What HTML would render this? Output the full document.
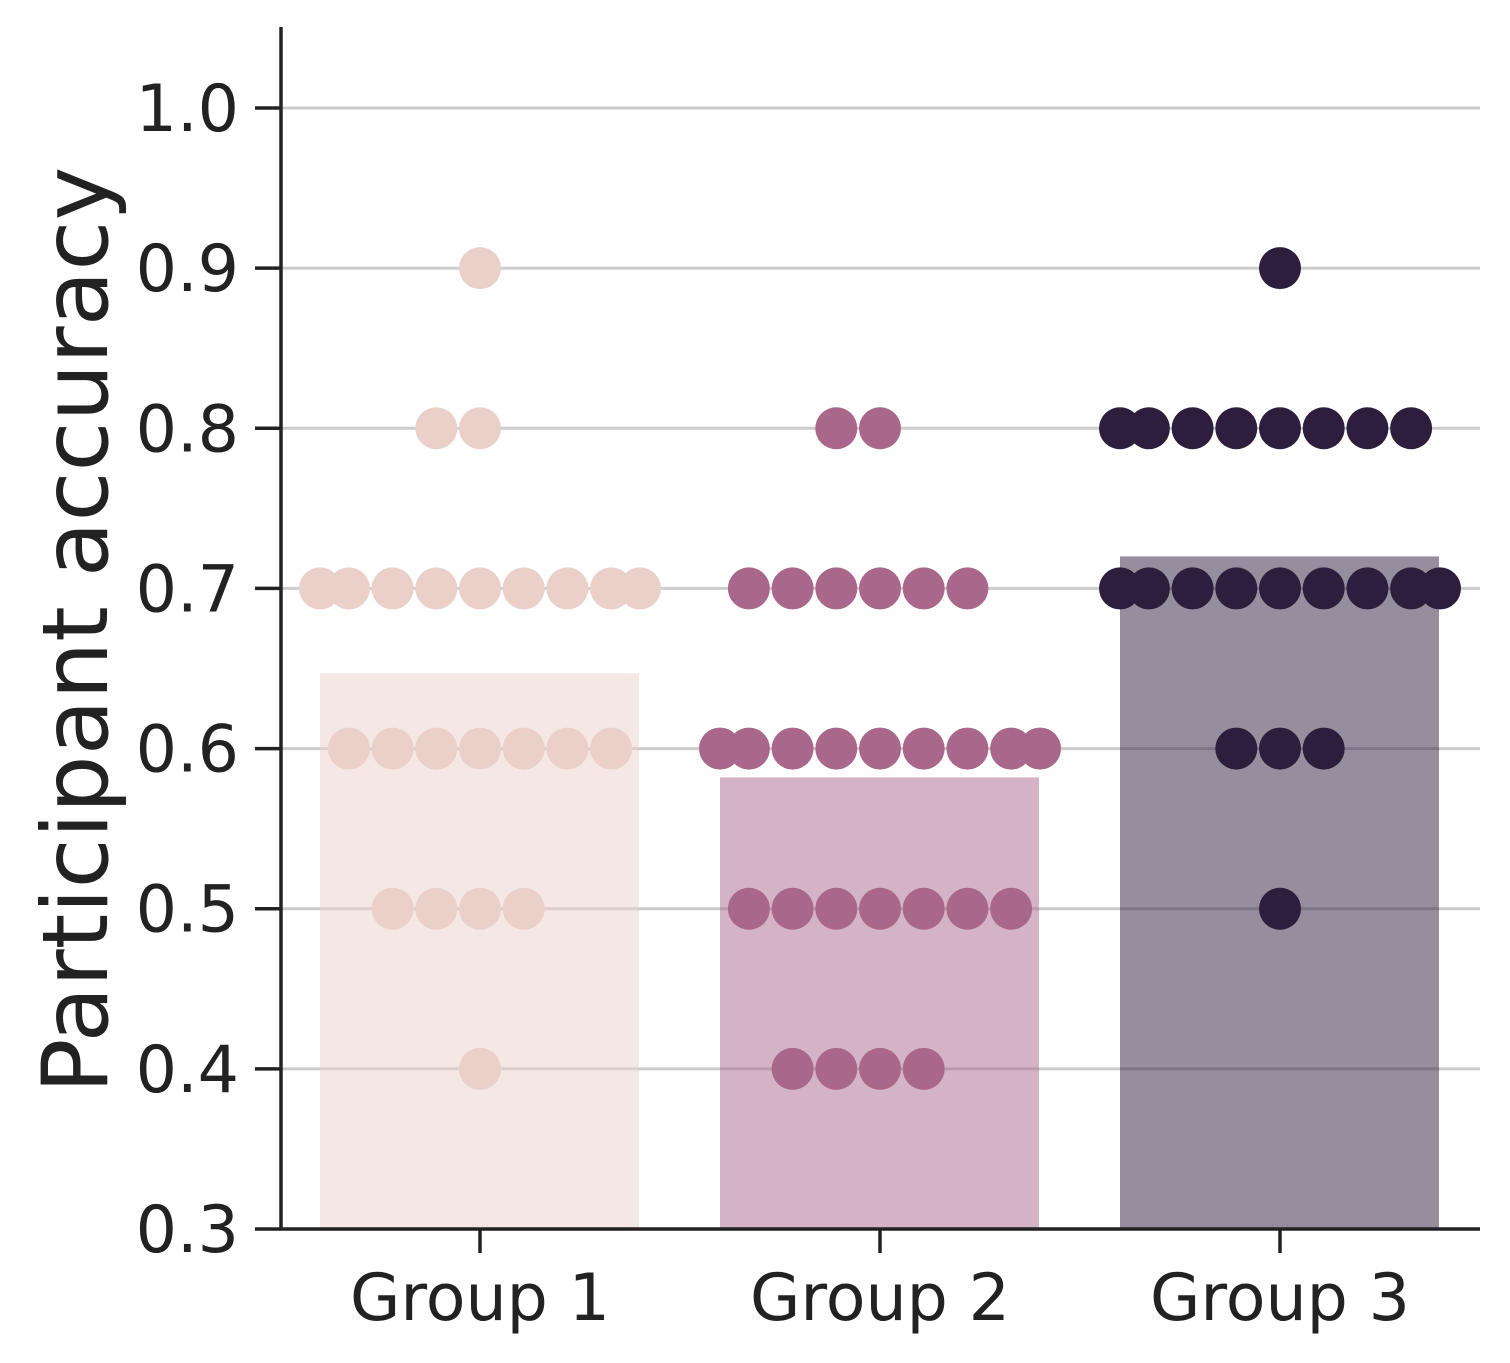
<!DOCTYPE html>
<html><head><meta charset="utf-8"><style>
html,body{margin:0;padding:0;background:#fff;}
svg{display:block;font-family:"DejaVu Sans","Liberation Sans",sans-serif;}
</style></head><body>
<svg id="chart" width="1510" height="1363" viewBox="0 0 1510 1363" xmlns="http://www.w3.org/2000/svg">
<g id="grid"></g><g id="bars"></g><g id="dots"></g><g id="axes"></g>
</svg>
<script>
const categories = ["Group 1","Group 2","Group 3"];
const barMeans = [0.647, 0.582, 0.720];
const group1Values = [0.9,0.8,0.8,0.7,0.7,0.7,0.7,0.7,0.7,0.7,0.7,0.7,0.6,0.6,0.6,0.6,0.6,0.6,0.6,0.5,0.5,0.5,0.5,0.4];
const group2Values = [0.8,0.8,0.7,0.7,0.7,0.7,0.7,0.7,0.6,0.6,0.6,0.6,0.6,0.6,0.6,0.6,0.6,0.5,0.5,0.5,0.5,0.5,0.5,0.5,0.4,0.4,0.4,0.4];
const group3Values = [0.9,0.8,0.8,0.8,0.8,0.8,0.8,0.8,0.8,0.7,0.7,0.7,0.7,0.7,0.7,0.7,0.7,0.7,0.6,0.6,0.6,0.5];
const yTicks = [0.3,0.4,0.5,0.6,0.7,0.8,0.9,1.0];
const dotColors = ["#ebd0c9","#a8678b","#2d1e3e"];

const NS="http://www.w3.org/2000/svg";
const X0=281, X1=1480, Y0=1229;
function y(v){ return Y0 - (v-0.3)/0.7*(1229-108); }
function xc(i){ return 480 + i*400; }
function mk(tag, attrs, parent){ const e=document.createElementNS(NS,tag); for(const k in attrs) e.setAttribute(k,attrs[k]); parent.appendChild(e); return e; }
const grid=document.getElementById('grid'), bars=document.getElementById('bars'), dots=document.getElementById('dots'), axes=document.getElementById('axes');

yTicks.forEach(t=>{
  if(t>0.3){
    const g=mk('line',{x1:X0,x2:X1,y1:y(t),y2:y(t),stroke:'#cccccc','stroke-width':3},grid);
    
    
  }
  const tk=mk('line',{x1:255,x2:X0,y1:y(t),y2:y(t),stroke:'#222','stroke-width':3.5},axes);
  
  
  const lb=mk('text',{x:239,y:y(t)+23,'text-anchor':'end','font-size':65,fill:'#222'},axes);
  lb.textContent=t.toFixed(1);
  
  
});

barMeans.forEach((m,i)=>{
  const b=mk('rect',{x:xc(i)-160,y:y(m),width:319,height:Y0-y(m),fill:dotColors[i],'fill-opacity':0.5},bars);
  
  
});

[group1Values,group2Values,group3Values].forEach((vals,gi)=>{
  const counts={};
  vals.forEach(v=>{
    const key=v.toFixed(2); const n=counts[key]||0; counts[key]=n+1;
    const k=Math.ceil(n/2); const sign=(n%2===1)?-1:1;
    let off=sign*k*43.7; off=Math.max(-160,Math.min(160,off));
    const c=mk('circle',{cx:xc(gi)+off,cy:y(v),r:21,fill:dotColors[gi]},dots);
    
    
  });
});

const ya=mk('line',{x1:X0,x2:X0,y1:27,y2:Y0+1.5,stroke:'#222','stroke-width':3.5},axes);


const xa=mk('line',{x1:X0-1.5,x2:X1,y1:Y0,y2:Y0,stroke:'#222','stroke-width':3.5},axes);


categories.forEach((c,i)=>{
  const tk=mk('line',{x1:xc(i),x2:xc(i),y1:Y0,y2:Y0+24,stroke:'#222','stroke-width':3.5},axes);
  
  
  const lb=mk('text',{x:xc(i),y:1320,'text-anchor':'middle','font-size':65,fill:'#222'},axes);
  lb.textContent=c;
  
  
});
const yl=mk('text',{x:0,y:0,'text-anchor':'middle','font-size':91,fill:'#222',transform:'translate(107,630) rotate(-90)'},axes);
yl.textContent='Participant accuracy';


</script>
</body></html>
